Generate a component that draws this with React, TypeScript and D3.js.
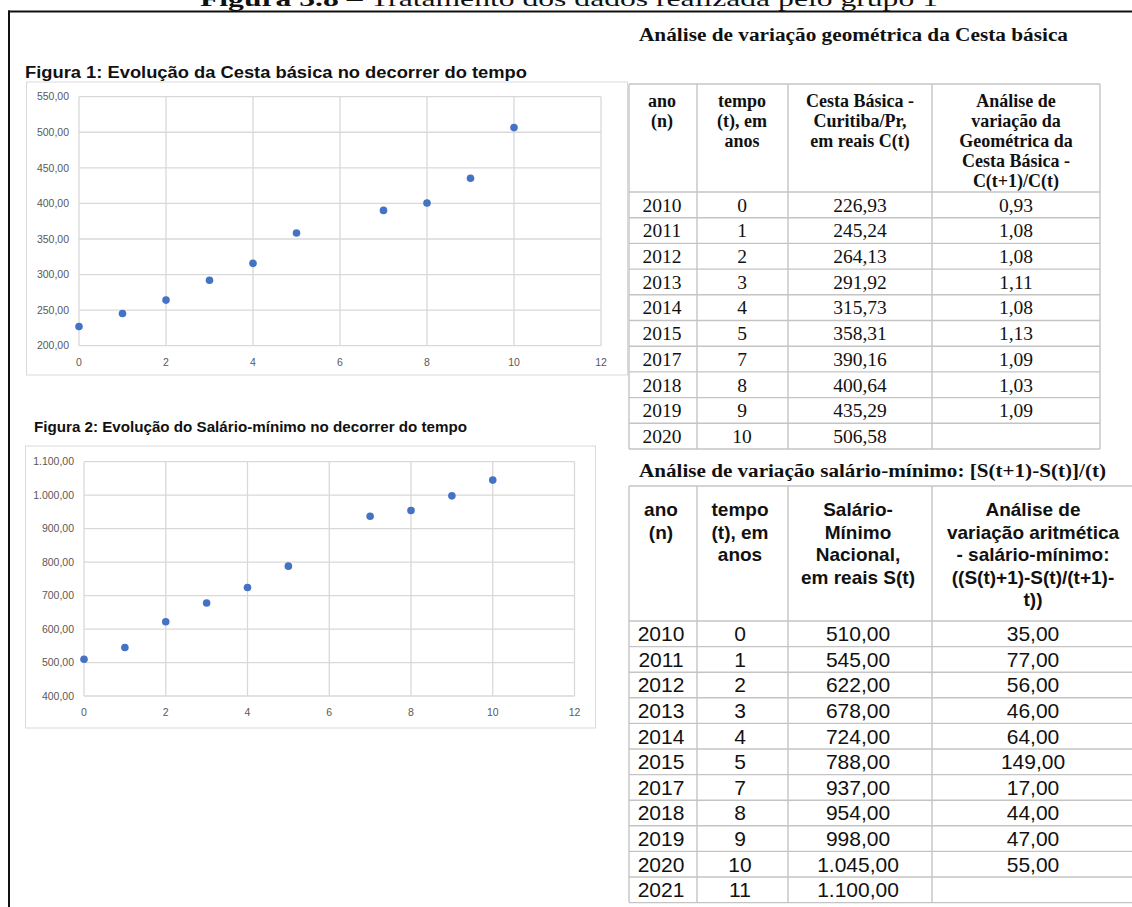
import React from "react";
import * as d3 from "d3";

// Cesta básica (Curitiba/PR)
const cestaAnos = [2010, 2011, 2012, 2013, 2014, 2015, 2017, 2018, 2019, 2020];
const cestaTempo = [0, 1, 2, 3, 4, 5, 7, 8, 9, 10];
const cestaValores = [226.93, 245.24, 264.13, 291.92, 315.73, 358.31, 390.16, 400.64, 435.29, 506.58];
const cestaRazao = [0.93, 1.08, 1.08, 1.11, 1.08, 1.13, 1.09, 1.03, 1.09];

// Salário-mínimo nacional
const salarioAnos = [2010, 2011, 2012, 2013, 2014, 2015, 2017, 2018, 2019, 2020, 2021];
const salarioTempo = [0, 1, 2, 3, 4, 5, 7, 8, 9, 10, 11];
const salarioValores = [510, 545, 622, 678, 724, 788, 937, 954, 998, 1045, 1100];
const salarioVariacao = [35, 77, 56, 46, 64, 149, 17, 44, 47, 55];

// Axis ticks
const xTicks = [0, 2, 4, 6, 8, 10, 12];
const cestaTicks = [200, 250, 300, 350, 400, 450, 500, 550];
const salarioTicks = [400, 500, 600, 700, 800, 900, 1000, 1100];

// Table headers
const cestaHeader = [
  ["ano", "(n)"],
  ["tempo", "(t), em", "anos"],
  ["Cesta Básica -", "Curitiba/Pr,", "em reais C(t)"],
  ["Análise de", "variação da", "Geométrica da", "Cesta Básica -", "C(t+1)/C(t)"],
];
const salarioHeader = [
  ["ano", "(n)"],
  ["tempo", "(t), em", "anos"],
  ["Salário-", "Mínimo", "Nacional,", "em reais S(t)"],
  ["Análise de", "variação aritmética", "- salário-mínimo:", "((S(t)+1)-S(t)/(t+1)-", "t))"],
];

const br = d3.formatLocale({ decimal: ",", thousands: ".", grouping: [3], currency: ["", ""] });
const fmt2 = br.format(",.2f");

const SANS = "'Liberation Sans', Arial, sans-serif";
const SERIF = "'Liberation Serif', 'Times New Roman', serif";
const GRID = "#d9d9d9";
const DOT = "#4472C4";
const TICK = "#595959";
const TABLE_LINE = "#c4c4c4";

type ScatterProps = {
  box: { x: number; y: number; w: number; h: number };
  plot: { x0: number; x1: number; top: number; bottom: number };
  yTicks: number[];
  xs: number[];
  ys: number[];
  title: string;
  titleX: number;
  titleY: number;
  titleSize: number;
  titleLen: number;
  labelRight: number;
  xLabelY: number;
  labelSize: number;
};

function Scatter(p: ScatterProps) {
  const x = d3.scaleLinear().domain([0, 12]).range([p.plot.x0, p.plot.x1]);
  const y = d3
    .scaleLinear()
    .domain([p.yTicks[0], p.yTicks[p.yTicks.length - 1]])
    .range([p.plot.bottom, p.plot.top]);
  return (
    <g>
      <text
        x={p.titleX}
        y={p.titleY + p.titleSize * 0.36}
        fontFamily={SANS}
        fontWeight="bold"
        fontSize={p.titleSize}
        fill="#111"
        textLength={p.titleLen}
        lengthAdjust="spacingAndGlyphs"
      >
        {p.title}
      </text>
      <rect x={p.box.x} y={p.box.y} width={p.box.w} height={p.box.h} fill="#fff" stroke={GRID} strokeWidth={1} />
      {p.yTicks.map((t) => (
        <line key={"h" + t} x1={p.plot.x0} x2={p.plot.x1} y1={y(t)} y2={y(t)} stroke={GRID} strokeWidth={1.3} />
      ))}
      {xTicks.map((t) => (
        <line key={"v" + t} x1={x(t)} x2={x(t)} y1={p.plot.top} y2={p.plot.bottom} stroke={GRID} strokeWidth={1.3} />
      ))}
      {p.yTicks.map((t) => (
        <text
          key={"yl" + t}
          x={p.labelRight}
          y={y(t) + p.labelSize * 0.35}
          textAnchor="end"
          fontFamily={SANS}
          fontSize={p.labelSize}
          fill={TICK}
        >
          {fmt2(t)}
        </text>
      ))}
      {xTicks.map((t) => (
        <text
          key={"xl" + t}
          x={x(t)}
          y={p.xLabelY + p.labelSize * 0.35}
          textAnchor="middle"
          fontFamily={SANS}
          fontSize={p.labelSize}
          fill={TICK}
        >
          {t}
        </text>
      ))}
      {p.xs.map((v, i) => (
        <circle key={"d" + i} cx={x(v)} cy={y(p.ys[i])} r={3.8} fill={DOT} />
      ))}
    </g>
  );
}

type TableProps = {
  cols: number[]; // vertical line positions
  centers: number[]; // text centres per column
  top: number;
  headerBottom: number;
  rowH: number;
  header: string[][];
  headerLines: number[]; // vertical centres of the header lines
  headerFont: string;
  headerSize: number;
  bodyFont: string;
  bodySize: number;
  rows: string[][];
  lineRight: number;
};

function Table(p: TableProps) {
  const n = p.rows.length;
  const rowY = d3
    .scaleLinear()
    .domain([0, n])
    .range([p.headerBottom, p.headerBottom + n * p.rowH]);
  const bottom = rowY(n);
  return (
    <g>
      {/* horizontal rules */}
      {[p.top, ...d3.range(n + 1).map((i) => rowY(i))].map((yy, i) => (
        <line key={"hr" + i} x1={p.cols[0]} x2={p.lineRight} y1={yy} y2={yy} stroke={TABLE_LINE} strokeWidth={1.4} />
      ))}
      {/* vertical rules */}
      {p.cols.map((cx, i) => (
        <line key={"vr" + i} x1={cx} x2={cx} y1={p.top} y2={bottom} stroke={TABLE_LINE} strokeWidth={1.4} />
      ))}
      {p.header.map((lines, c) =>
        lines.map((t, li) => (
          <text
            key={"h" + c + "-" + li}
            x={p.centers[c]}
            y={p.headerLines[li] + p.headerSize * 0.35}
            textAnchor="middle"
            fontFamily={p.headerFont}
            fontWeight="bold"
            fontSize={p.headerSize}
            fill="#111"
          >
            {t}
          </text>
        ))
      )}
      {p.rows.map((r, i) =>
        r.map((t, c) => (
          <text
            key={"r" + i + "-" + c}
            x={p.centers[c]}
            y={rowY(i) + p.rowH / 2 + p.bodySize * 0.35}
            textAnchor="middle"
            fontFamily={p.bodyFont}
            fontSize={p.bodySize}
            fill="#111"
          >
            {t}
          </text>
        ))
      )}
    </g>
  );
}

export default function App() {
  const cestaRows = cestaAnos.map((a, i) => [
    String(a),
    String(cestaTempo[i]),
    fmt2(cestaValores[i]),
    i < cestaRazao.length ? fmt2(cestaRazao[i]) : "",
  ]);
  const salarioRows = salarioAnos.map((a, i) => [
    String(a),
    String(salarioTempo[i]),
    fmt2(salarioValores[i]),
    i < salarioVariacao.length ? fmt2(salarioVariacao[i]) : "",
  ]);

  return (
    <svg
      width={1132}
      height={907}
      viewBox="0 0 1132 907"
      style={{ position: "absolute", left: 0, top: 0, background: "#fff" }}
    >
      <rect x={0} y={0} width={1132} height={907} fill="#fff" />

      {/* page caption, partially above the frame */}
      <text x={200} y={6} fontFamily={SERIF} fontSize={22} fill="#111" textLength={738} lengthAdjust="spacingAndGlyphs">
        <tspan fontWeight="bold">Figura 3.8</tspan> – Tratamento dos dados realizada pelo grupo 1
      </text>

      {/* frame */}
      <line x1={8} x2={1132} y1={11.5} y2={11.5} stroke="#111" strokeWidth={2} />
      <line x1={9} x2={9} y1={10.5} y2={907} stroke="#111" strokeWidth={2} />

      <Scatter
        box={{ x: 26.5, y: 82, w: 601, h: 293 }}
        plot={{ x0: 79, x1: 601, top: 96.7, bottom: 345.7 }}
        yTicks={cestaTicks}
        xs={cestaTempo}
        ys={cestaValores}
        title="Figura 1: Evolução da Cesta básica no decorrer do tempo"
        titleX={25}
        titleY={72}
        titleSize={16}
        titleLen={502}
        labelRight={69}
        xLabelY={362}
        labelSize={10.5}
      />

      <Scatter
        box={{ x: 25.5, y: 446, w: 570, h: 282 }}
        plot={{ x0: 84, x1: 574.5, top: 461.7, bottom: 696 }}
        yTicks={salarioTicks}
        xs={salarioTempo.slice(0, 10)}
        ys={salarioValores.slice(0, 10)}
        title="Figura 2: Evolução do Salário-mínimo no decorrer do tempo"
        titleX={34}
        titleY={427}
        titleSize={14}
        titleLen={433}
        labelRight={74}
        xLabelY={712}
        labelSize={10.5}
      />

      {/* table 1 */}
      <text x={639} y={41} fontFamily={SERIF} fontWeight="bold" fontSize={18} fill="#111" textLength={429} lengthAdjust="spacingAndGlyphs">
        Análise de variação geométrica da Cesta básica
      </text>
      <Table
        cols={[629, 697, 788, 932, 1100]}
        centers={[662, 742, 860, 1016]}
        top={84}
        headerBottom={192}
        rowH={25.7}
        header={cestaHeader}
        headerLines={[101, 121, 141, 161, 181]}
        headerFont={SERIF}
        headerSize={18}
        bodyFont={SERIF}
        bodySize={19.5}
        rows={cestaRows}
        lineRight={1100}
      />

      {/* table 2 */}
      <text x={639} y={477} fontFamily={SERIF} fontWeight="bold" fontSize={18} fill="#111" textLength={467} lengthAdjust="spacingAndGlyphs">
        Análise de variação salário-mínimo: [S(t+1)-S(t)]/(t)
      </text>
      <Table
        cols={[629, 697, 788, 932, 1140]}
        centers={[661, 740, 858, 1033]}
        top={486}
        headerBottom={621}
        rowH={25.6}
        header={salarioHeader}
        headerLines={[509.6, 532, 554.5, 577, 599.5]}
        headerFont={SANS}
        headerSize={19}
        bodyFont={SANS}
        bodySize={21}
        rows={salarioRows}
        lineRight={1140}
      />
    </svg>
  );
}
